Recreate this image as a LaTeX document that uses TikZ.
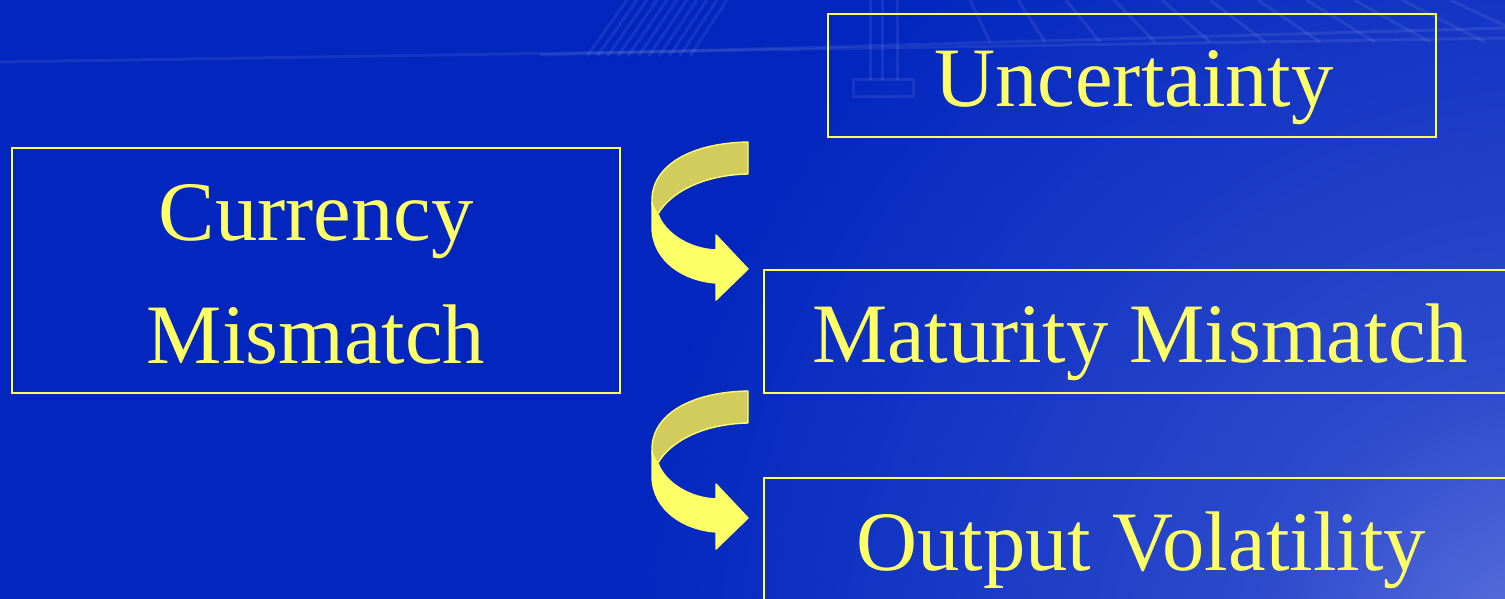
\documentclass[tikz,border=0pt]{standalone}
\usepackage{fontspec}
\setmainfont{Liberation Serif}
\definecolor{bgblue}{RGB}{2,38,190}
\definecolor{bglite}{RGB}{100,120,222}
\definecolor{bgmid}{RGB}{45,75,205}
\definecolor{txtyel}{RGB}{255,255,102}
\definecolor{backyel}{RGB}{210,204,92}
\pgfdeclareradialshading{glow}{\pgfpoint{0bp}{0bp}}{color(0bp)=(bglite); color(8bp)=(bgmid); color(25bp)=(bgblue); color(50bp)=(bgblue)}
\begin{document}
\begin{tikzpicture}[x=0.5pt,y=-0.5pt,
  box/.style={draw=txtyel, line width=1pt, rectangle, inner sep=0pt},
  lbl/.style={text=txtyel, anchor=base, inner sep=0pt, font=\fontsize{42.3}{50}\selectfont},
  ribbonback/.style={fill=backyel, draw=txtyel, line width=0.7pt, line join=round},
  ribbonfront/.style={fill=txtyel, draw=txtyel, line width=0.7pt, line join=round},
  wm/.style={draw=white, opacity=0.08, line width=1.5pt}]
\useasboundingbox (0,0) rectangle (1505,599);
\fill[bgblue] (0,0) rectangle (1505,599);
\begin{scope}
  \clip (0,0) rectangle (1505,599);
  \shade[shading=glow] (1560,680) circle[radius=475pt];
  % faint watermark of a bridge
  \draw[wm] (0,62) -- (1505,38);
  \draw[wm] (540,55) -- (1505,28);
  \foreach \k in {0,...,10} \draw[wm] ({587+10.3*\k},56) -- ({627+10*\k},0);
  \foreach \xx in {870,882,897} \draw[wm] (\xx,0) -- (\xx,80);
  \draw[wm] (853,80) rectangle (913,97);
  \foreach \k in {0,...,10} \draw[wm] ({970+48*\k},0) -- ({990+55*\k},42);
\end{scope}

% boxes
\node[box, minimum width=304pt, minimum height=61.5pt] (unc) at (1132,75.5) {};
\node[box, minimum width=304pt, minimum height=122.5pt] (cur) at (316,270.5) {};
\node[box, minimum width=378pt, minimum height=61.5pt] (mat) at (1142,331.5) {};
\node[box, minimum width=378pt, minimum height=66pt] (out) at (1142,544) {};

% labels
\node[lbl] (tunc) at (1134,107) {Uncertainty};
\node[lbl] (tcur1) at (316,240) {Currency};
\node[lbl] (tcur2) at (316,363) {Mismatch};
\node[lbl] (tmat) at (1140,362) {Maturity Mismatch};
\node[lbl] (tout) at (1141,570) {Output Volatility};

% curved ribbon arrows
\foreach \dy in {0,249} {
\begin{scope}[shift={(0,\dy)}]
  \draw[ribbonback] (748,142) .. controls (690,143) and (652,166) .. (652,200)
    -- (652,204) .. controls (654,209) and (655,211) .. (658,214)
    .. controls (670,193) and (702,175) .. (748,174) -- cycle;
  \draw[ribbonfront] (652,202) -- (652,228) .. controls (653,262) and (685,281) .. (716,283)
    -- (716,300) -- (748,269) -- (716,235) -- (716,250)
    .. controls (688,249) and (664,232) .. (658,214)
    .. controls (655,211) and (653,207) .. (652,202) -- cycle;
\end{scope}
}
\end{tikzpicture}
\end{document}
